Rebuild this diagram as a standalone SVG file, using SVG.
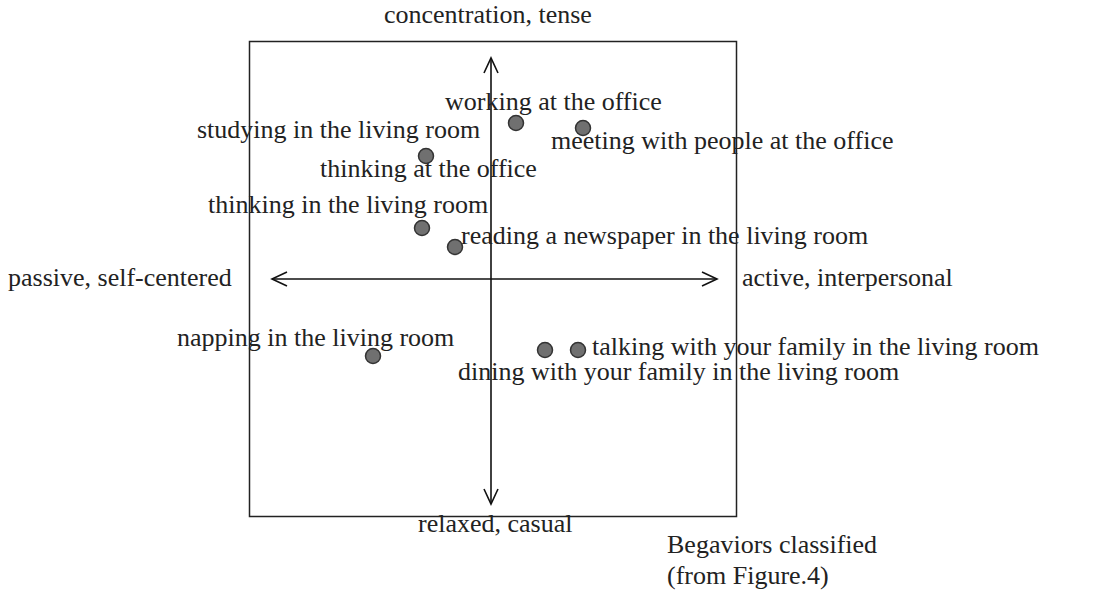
<svg xmlns="http://www.w3.org/2000/svg" width="1093" height="596" viewBox="0 0 1093 596">
<style>
text{font-family:"Liberation Serif","Times New Roman",serif;font-size:26px;fill:#222}
.dot{fill:#707070;stroke:#333;stroke-width:1.5}
.ax{stroke:#111;stroke-width:1.6;fill:none}
</style>
<defs>
<marker id="ah" viewBox="0 0 20 20" refX="18" refY="10" markerWidth="20" markerHeight="20" markerUnits="userSpaceOnUse" orient="auto-start-reverse">
<path d="M3,3 L18,10 L3,17" fill="none" stroke="#111" stroke-width="1.6"/>
</marker>
</defs>
<rect x="249.5" y="41.5" width="487" height="475" fill="none" stroke="#222" stroke-width="1.5"/>
<g id="connectors">
<line class="ax" x1="491" y1="58" x2="491" y2="504" marker-start="url(#ah)" marker-end="url(#ah)"/>
<line class="ax" x1="272" y1="279" x2="717" y2="279" marker-start="url(#ah)" marker-end="url(#ah)"/>
</g>
<g id="axis-labels">
<text x="384" y="23">concentration, tense</text>
<text x="418" y="532">relaxed, casual</text>
<text x="8" y="286">passive, self-centered</text>
<text x="742" y="286">active, interpersonal</text>
</g>
<g id="working"><circle class="dot" cx="516" cy="123" r="7.5"/><text x="445" y="110">working at the office</text></g>
<g id="meeting"><circle class="dot" cx="583" cy="128" r="7.5"/><text x="551" y="149">meeting with people at the office</text></g>
<g id="studying"><text x="197" y="138">studying in the living room</text></g>
<g id="thinking-office"><circle class="dot" cx="426" cy="156" r="7.5"/><text x="320" y="177">thinking at the office</text></g>
<g id="thinking-living"><circle class="dot" cx="422" cy="228" r="7.5"/><text x="208" y="213">thinking in the living room</text></g>
<g id="reading"><circle class="dot" cx="455" cy="247" r="7.5"/><text x="461" y="244">reading a newspaper in the living room</text></g>
<g id="napping"><circle class="dot" cx="373" cy="356" r="7.5"/><text x="177" y="346">napping in the living room</text></g>
<g id="dining"><circle class="dot" cx="545" cy="350" r="7.5"/><text x="458" y="380">dining with your family in the living room</text></g>
<g id="talking"><circle class="dot" cx="578" cy="350" r="7.5"/><text x="592" y="355">talking with your family in the living room</text></g>
<g id="caption">
<text x="667" y="553">Begaviors classified</text>
<text x="667" y="584">(from Figure.4)</text>
</g>
</svg>
